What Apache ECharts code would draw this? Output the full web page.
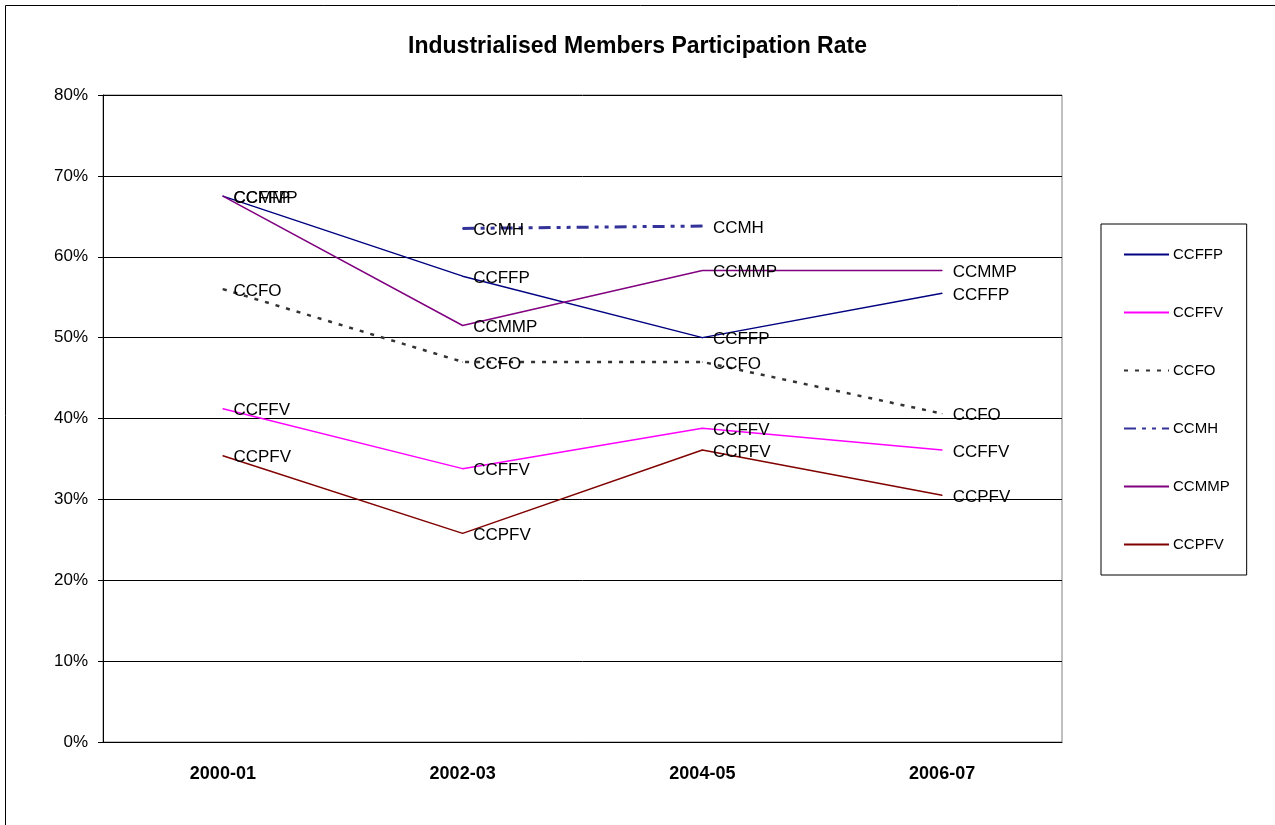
<!DOCTYPE html>
<html>
<head>
<meta charset="utf-8">
<script src="https://cdn.jsdelivr.net/npm/echarts@6/dist/echarts.min.js"></script>
<style>
  html, body { margin: 0; padding: 0; background: #fff; }
  #chart { width: 1275px; height: 825px; }
</style>
</head>
<body>
<div id="chart"></div>
<script>
const categories = ['2000-01', '2002-03', '2004-05', '2006-07']
const ccffp = [67.5, 57.6, 50.0, 55.5]
const ccffv = [41.2, 33.8, 38.8, 36.1]
const ccfo = [56.0, 47.0, 47.0, 40.6]
const ccmh = [null, 63.5, 63.8, null]
const ccmmp = [67.5, 51.5, 58.3, 58.3]
const ccpfv = [35.4, 25.8, 36.1, 30.5]

const font = 'Liberation Sans, Arial, sans-serif'

// one line series, label = series name to the right of each point
const makeLine = (name, data, color, width, type) => ({
	name: name,
	type: 'line',
	data: data,
	symbol: 'circle',
	symbolSize: 1,
	itemStyle: { color: color },
	lineStyle: { color: color, width: width, type: type },
	label: {
		show: true,
		position: 'right',
		distance: 10,
		offset: [0, 2],
		formatter: '{a}',
		color: '#000',
		fontSize: 17,
		fontFamily: font
	},
	emphasis: { disabled: true },
	animation: false
})

const chart = echarts.init(document.getElementById('chart'))
chart.setOption({
	backgroundColor: '#fff',
	textStyle: { fontFamily: font },
	title: {
		text: 'Industrialised Members Participation Rate',
		left: 'center',
		top: 30,
		textStyle: { fontSize: 23, fontWeight: 'bold', color: '#000', fontFamily: font }
	},
	graphic: [
		{
			type: 'rect',
			shape: { x: 5.5, y: 5.5, width: 1400, height: 1000 },
			style: { fill: 'none', stroke: '#000', lineWidth: 1 },
			silent: true
		}
	],
	legend: {
		orient: 'vertical',
		left: 1101,
		top: 224,
		itemWidth: 45,
		itemHeight: 14,
		itemGap: 43,
		padding: [23, 17, 23, 22],
		borderColor: '#000',
		borderWidth: 1,
		itemStyle: { opacity: 0 },
		textStyle: { fontSize: 15, color: '#000', fontFamily: font, padding: [0, 0, 0, -1] },
		data: ['CCFFP', 'CCFFV', 'CCFO', 'CCMH', 'CCMMP', 'CCPFV']
	},
	grid: {
		left: 103,
		right: 213,
		top: 95,
		bottom: 83,
		show: true,
		borderColor: '#808080',
		borderWidth: 1
	},
	xAxis: {
		type: 'category',
		data: categories,
		boundaryGap: true,
		axisLine: { lineStyle: { color: '#000', width: 1 } },
		axisTick: { length: 6, lineStyle: { color: '#000' } },
		axisLabel: {
			color: '#000',
			fontSize: 18,
			fontWeight: 'bold',
			margin: 23,
			fontFamily: font
		}
	},
	yAxis: {
		type: 'value',
		min: 0,
		max: 80,
		interval: 10,
		axisLine: { show: true, lineStyle: { color: '#000' } },
		axisTick: { show: true, length: 5, lineStyle: { color: '#000' } },
		axisLabel: {
			formatter: '{value}%',
			color: '#000',
			fontSize: 17,
			margin: 15,
			fontFamily: font
		},
		splitLine: { show: true, lineStyle: { color: '#000', width: 1 } }
	},
	series: [
		makeLine('CCFFP', ccffp, '#000080', 1.5, 'solid'),
		makeLine('CCFFV', ccffv, '#FF00FF', 1.5, 'solid'),
		makeLine('CCFO', ccfo, '#333333', 2.5, [4, 7]),
		makeLine('CCMH', ccmh, '#333399', 3, [12, 6, 4, 6, 4, 6]),
		makeLine('CCMMP', ccmmp, '#800080', 1.5, 'solid'),
		makeLine('CCPFV', ccpfv, '#800000', 1.5, 'solid')
	]
})
</script>
</body>
</html>
